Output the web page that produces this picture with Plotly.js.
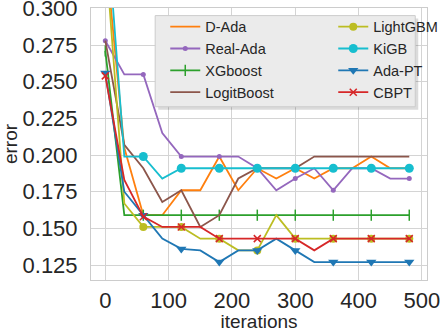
<!DOCTYPE html>
<html>
<head>
<meta charset="utf-8">
<script src="https://cdn.plot.ly/plotly-3.0.1.min.js"></script>
<style>
  html, body { margin: 0; padding: 0; background: #ffffff; }
  #chart { width: 441px; height: 332px; }
</style>
</head>
<body>
<div id="chart"></div>
<script>
  const iterations = [0, 30, 60, 90, 120, 150, 180, 210, 240, 270, 300, 330, 360, 390, 420, 450, 480];
  const dAda = [0.34, 0.205, 0.159, 0.159, 0.176, 0.176, 0.199, 0.176, 0.191, 0.184, 0.191, 0.184, 0.191, 0.191, 0.199, 0.191, 0.191];
  const realAda = [0.278, 0.255, 0.255, 0.215, 0.199, 0.199, 0.199, 0.199, 0.191, 0.176, 0.184, 0.191, 0.176, 0.191, 0.191, 0.184, 0.184];
  const xgboost = [0.271, 0.159, 0.159, 0.159, 0.159, 0.159, 0.159, 0.159, 0.159, 0.159, 0.159, 0.159, 0.159, 0.159, 0.159, 0.159, 0.159];
  const logitBoost = [0.278, 0.207, 0.191, 0.168, 0.176, 0.151, 0.159, 0.184, 0.191, 0.191, 0.191, 0.199, 0.199, 0.199, 0.199, 0.199, 0.199];
  const lightGBM = [0.34, 0.167, 0.151, 0.151, 0.151, 0.143, 0.143, 0.135, 0.135, 0.159, 0.143, 0.143, 0.143, 0.143, 0.143, 0.143, 0.143];
  const kiGB = [0.37, 0.199, 0.199, 0.184, 0.191, 0.191, 0.191, 0.191, 0.191, 0.191, 0.191, 0.191, 0.191, 0.191, 0.191, 0.191, 0.191];
  const adaPT = [0.256, 0.175, 0.159, 0.143, 0.136, 0.135, 0.127, 0.135, 0.135, 0.143, 0.135, 0.127, 0.127, 0.127, 0.127, 0.127, 0.127];
  const cbpt = [0.254, 0.183, 0.158, 0.151, 0.151, 0.151, 0.143, 0.143, 0.143, 0.143, 0.143, 0.135, 0.143, 0.143, 0.143, 0.143, 0.143];
  const xTicks = [0, 100, 200, 300, 400, 500];

  // legend is filled row by row, so ranks put the items in two columns
  const series = [
    { name: "D-Ada", y: dAda, color: "#ff7f0e", symbol: null, size: 0, rank: 1 },
    { name: "Real-Ada", y: realAda, color: "#9467bd", symbol: "circle", size: 5, rank: 3 },
    { name: "XGboost", y: xgboost, color: "#2ca02c", symbol: "line-ns-open", size: 8, rank: 5 },
    { name: "LogitBoost", y: logitBoost, color: "#8c564b", symbol: null, size: 0, rank: 7 },
    { name: "LightGBM", y: lightGBM, color: "#bcbd22", symbol: "circle", size: 8, rank: 2 },
    { name: "KiGB", y: kiGB, color: "#17becf", symbol: "circle", size: 9, rank: 4 },
    { name: "Ada-PT", y: adaPT, color: "#1f77b4", symbol: "triangle-down", size: 9, rank: 6 },
    { name: "CBPT", y: cbpt, color: "#d62728", symbol: "x-thin-open", size: 7, rank: 8 }
  ];

  const traces = series.map(function (s) {
    const trace = {
      type: "scatter",
      name: s.name,
      x: iterations,
      y: s.y,
      legendrank: s.rank,
      line: { color: s.color, width: 1.8 },
      mode: "lines"
    };
    if (s.symbol) {
      trace.mode = "lines+markers";
      trace.marker = {
        symbol: s.symbol,
        size: s.size,
        // markers only on every other point
        color: iterations.map(function (_v, i) { return i % 2 === 0 ? s.color : "rgba(0,0,0,0)"; }),
        line: { width: s.symbol.indexOf("open") >= 0 ? 1.5 : 0 }
      };
    }
    return trace;
  });

  const axisBase = {
    showgrid: true,
    gridcolor: "#d4d4d4",
    gridwidth: 1,
    showline: true,
    linecolor: "#cccccc",
    linewidth: 1,
    mirror: true,
    zeroline: false,
    ticks: "",
    ticklabeloverflow: "allow",
    tickfont: { size: 22, color: "#262626" }
  };

  // legend frame drawn as shapes so its padding can match
  const legendBox = { x0: 0.191, x1: 0.965, y0: 0.637, y1: 0.972 };

  const layout = {
    width: 441,
    height: 332,
    margin: { l: 91, r: 14, t: 8, b: 52, autoexpand: false },
    paper_bgcolor: "#ffffff",
    plot_bgcolor: "#ffffff",
    font: { family: "Liberation Sans, Arial, sans-serif", color: "#262626" },
    xaxis: Object.assign({}, axisBase, {
      range: [-22.6, 508],
      tickvals: xTicks,
      ticklabelstandoff: 1,
      title: { text: "iterations", font: { size: 19 }, standoff: 1 }
    }),
    yaxis: Object.assign({}, axisBase, {
      range: [0.1148, 0.3003],
      dtick: 0.025,
      tickformat: ".3f",
      ticklabelstandoff: 8,
      title: { text: "error", font: { size: 19 }, standoff: 2 }
    }),
    shapes: [
      {
        type: "rect", xref: "paper", yref: "paper", layer: "above",
        x0: legendBox.x0 + 0.009, x1: legendBox.x1 + 0.009,
        y0: legendBox.y0 - 0.011, y1: legendBox.y1 - 0.011,
        fillcolor: "rgba(0,0,0,0.14)", line: { width: 0 }
      },
      {
        type: "rect", xref: "paper", yref: "paper", layer: "above",
        x0: legendBox.x0, x1: legendBox.x1, y0: legendBox.y0, y1: legendBox.y1,
        fillcolor: "#ebebeb", line: { color: "#cccccc", width: 1 }
      }
    ],
    legend: {
      orientation: "h",
      x: 0.221,
      y: 0.99,
      xanchor: "left",
      yanchor: "top",
      entrywidth: 123,
      entrywidthmode: "pixels",
      bgcolor: "rgba(0,0,0,0)",
      borderwidth: 0,
      font: { size: 14.5, color: "#262626" }
    },
    showlegend: true
  };

  Plotly.newPlot("chart", traces, layout, { displayModeBar: false, staticPlot: true });
</script>
</body>
</html>
